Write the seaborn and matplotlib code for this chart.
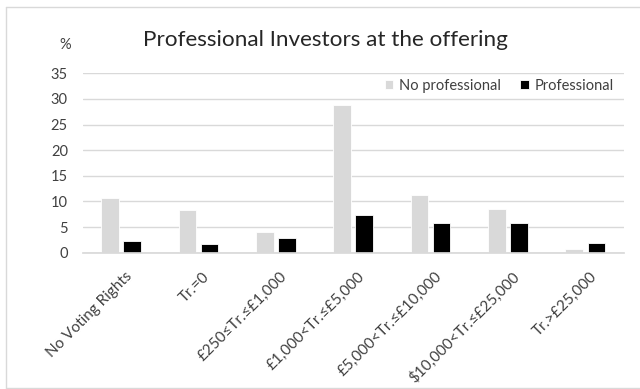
import matplotlib
matplotlib.use("Agg")
import matplotlib.pyplot as plt
import matplotlib.transforms as mtransforms
from matplotlib.lines import Line2D
import seaborn as sns
import pandas as pd

categories = ["No Voting Rights", "Tr.=0", "£250≤Tr.≤£1,000", "£1,000<Tr.≤£5,000",
              "£5,000<Tr.≤£10,000", "$10,000<Tr.≤£25,000", "Tr.>£25,000"]
no_professional = [10.6, 8.3, 4.0, 28.9, 11.2, 8.6, 0.8]
professional = [2.2, 1.7, 2.8, 7.3, 5.7, 5.7, 1.95]
series = ["No professional", "Professional"]
y_ticks = [0, 5, 10, 15, 20, 25, 30, 35]

df = pd.DataFrame({
    "category": categories * 2,
    "value": no_professional + professional,
    "series": [series[0]] * len(categories) + [series[1]] * len(categories),
})

sns.set_theme(style="white")
plt.rcParams["font.family"] = ["Lato", "DejaVu Sans"]
text_grey = "#404040"
grid_grey = "#d9d9d9"

fig = plt.figure(figsize=(6.4, 3.89), dpi=100)
ax = fig.add_axes([0.129, 0.3504, 0.846, 0.4612])

sns.barplot(data=df, x="category", y="value", hue="series", order=categories,
            hue_order=series, palette=["#d9d9d9", "#000000"], width=0.57, gap=0.2,
            edgecolor="white", linewidth=0.6, ax=ax, legend=True)

ax.set_ylim(0, 35)
ax.set_xlim(-0.5, len(categories) - 0.5)
ax.set_yticks(y_ticks)
ax.yaxis.grid(True, color=grid_grey, linewidth=1)
ax.set_axisbelow(True)
for s in ["top", "right", "left"]:
    ax.spines[s].set_visible(False)
ax.spines["bottom"].set_color(grid_grey)
ax.set_xlabel("")
ax.set_ylabel("")
ax.tick_params(axis="y", length=0, labelsize=10.5, colors=text_grey, pad=10.6)
ax.tick_params(axis="x", length=0, labelsize=11, colors=text_grey, pad=12)
shift = mtransforms.ScaledTranslation(3 / 72, 0, fig.dpi_scale_trans)
for lbl in ax.get_xticklabels():
    lbl.set_rotation(45)
    lbl.set_ha("right")
    lbl.set_va("top")
    lbl.set_rotation_mode("anchor")
    lbl.set_transform(lbl.get_transform() + shift)

leg = ax.legend(loc="center right", bbox_to_anchor=(0.959, 0.780),
                bbox_transform=fig.transFigure, ncol=2, frameon=False,
                fontsize=10.5, handlelength=0.6, handleheight=0.6, handletextpad=0.4,
                columnspacing=1.3, borderaxespad=0, borderpad=0)
for t in leg.get_texts():
    t.set_color(text_grey)

fig.text(0.509, 0.897, "Professional Investors at the offering", ha="center", va="center",
         fontsize=16.2, color="#262626")
fig.text(0.102, 0.884, "%", ha="center", va="center", fontsize=10.5, color=text_grey)

# chart frame: left, top and bottom edges
frame_kw = dict(transform=fig.transFigure, color=grid_grey, linewidth=1)
fig.lines.extend([
    Line2D([0.0094, 0.0094], [0.003, 0.982], **frame_kw),
    Line2D([0.0094, 1.0], [0.982, 0.982], **frame_kw),
    Line2D([0.0094, 1.0], [0.003, 0.003], **frame_kw),
])

fig.savefig("out.png", dpi=100)
